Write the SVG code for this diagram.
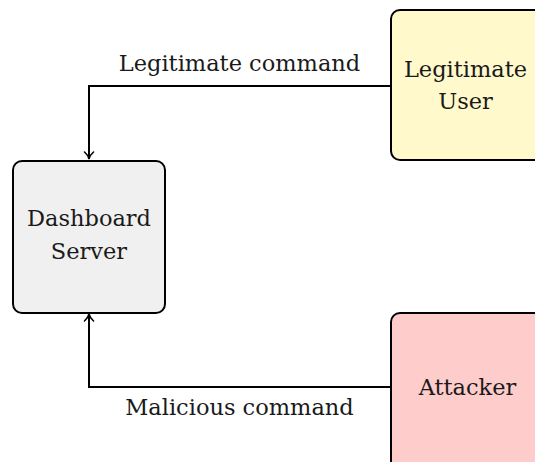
<svg xmlns="http://www.w3.org/2000/svg" width="535" height="462" viewBox="0 0 535 462">
  <style>
    .box { stroke: #000; stroke-width: 2; }
    .lbl { font-family: "DejaVu Serif", serif; font-size: 22.5px; fill: #1a1a1a; text-anchor: middle; }
    .wire { fill: none; stroke: #000; stroke-width: 2; }
  </style>
  <defs>
    <marker id="tip" markerWidth="12" markerHeight="12" refX="9" refY="6" orient="auto" markerUnits="userSpaceOnUse">
      <path d="M2,1.5 Q5,5 9,6 Q5,7 2,10.5" fill="none" stroke="#000" stroke-width="1.6" stroke-linecap="round"/>
    </marker>
  </defs>
  <rect width="535" height="462" fill="#fff"/>

  <g id="connectors">
    <path class="wire" d="M391,86 H89 V159" marker-end="url(#tip)"/>
    <path class="wire" d="M391,387 H89 V314" marker-end="url(#tip)"/>
    <text class="lbl" x="239.5" y="71">Legitimate command</text>
    <text class="lbl" x="239.5" y="415">Malicious command</text>
  </g>

  <g id="dashboard-server">
    <rect class="box" x="13" y="161" width="152" height="152" rx="9" fill="#f0f0f0"/>
    <text class="lbl" x="89" y="226">Dashboard</text>
    <text class="lbl" x="89" y="259">Server</text>
  </g>

  <g id="legitimate-user">
    <rect class="box" x="391" y="10" width="160" height="150" rx="9" fill="#fff9cc"/>
    <text class="lbl" x="465.5" y="77">Legitimate</text>
    <text class="lbl" x="465.5" y="109">User</text>
  </g>

  <g id="attacker">
    <rect class="box" x="391" y="313" width="160" height="160" rx="9" fill="#ffcccc"/>
    <text class="lbl" x="467.5" y="395">Attacker</text>
  </g>
</svg>
